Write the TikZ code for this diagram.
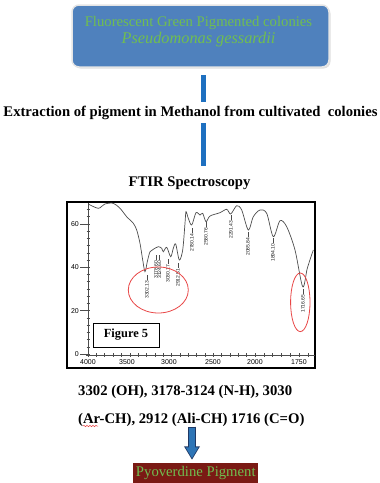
\documentclass[tikz,border=0pt]{standalone}
\usepackage{fontspec}
\setmainfont{Liberation Serif}
\setsansfont{Liberation Sans}
\usepackage{xcolor}
\usepackage{graphicx}
\usepackage{tikz}
\usetikzlibrary{arrows.meta, positioning, shadows, decorations.pathmorphing}
\definecolor{boxblue}{RGB}{79,129,189}
\definecolor{txtgreen}{RGB}{112,190,80}
\definecolor{linkblue}{RGB}{30,112,192}
\definecolor{arrowblue}{RGB}{46,117,182}
\definecolor{arrowedge}{RGB}{31,56,100}
\definecolor{pigred}{RGB}{122,26,20}
\definecolor{ringred}{RGB}{232,70,70}
\tikzstyle{startbox} = [rectangle, rounded corners=7pt, minimum width=257pt, minimum height=62pt, fill=boxblue, draw=gray!20, line width=1.5pt, drop shadow={opacity=0.25, shadow xshift=1.5pt, shadow yshift=-1.5pt}]
\tikzstyle{starttext} = [inner sep=0pt, align=center, text=txtgreen, font=\fontsize{14.7}{16.7}\selectfont]
\tikzstyle{steptext} = [inner sep=0pt, text height=10pt, text depth=3pt, font=\fontsize{14.7}{17}\selectfont\bfseries]
\tikzstyle{link} = [line width=5pt, draw=linkblue]
\tikzstyle{axis} = [line width=0.5pt, draw=gray!60!black]
\tikzstyle{ticklabel} = [inner sep=0.5pt, font=\sffamily\fontsize{7}{8}\selectfont]
\tikzstyle{peaklabel} = [rotate=90, anchor=east, inner sep=0pt, text=gray!20!black, font=\sffamily\fontsize{5}{6}\selectfont]
\tikzstyle{ring} = [line width=0.8pt, draw=ringred]
\tikzstyle{figlabel} = [rectangle, draw=black, line width=0.8pt, minimum width=66pt, minimum height=24pt, inner sep=0pt, font=\fontsize{12.4}{14}\selectfont\bfseries]
\tikzstyle{bandtext} = [inner sep=0pt, align=left, font=\fontsize{14.7}{28}\selectfont\bfseries]
\tikzstyle{bigarrow} = [line width=8pt, draw=arrowedge, -{Triangle[width=15pt, length=13.5pt]}]
\tikzstyle{bigarrowfill} = [line width=6pt, draw=arrowblue, -{Triangle[width=12pt, length=11pt]}]
\tikzstyle{resultbox} = [rectangle, fill=pigred, minimum width=125pt, minimum height=20pt, inner sep=0pt, text height=9pt, text depth=3pt, text=txtgreen, font=\fontsize{14.7}{17}\selectfont]

\begin{document}
\begin{tikzpicture}[x=1pt, y=-1pt]
    \useasboundingbox (0,0) rectangle (380,483);

    \node (src) [startbox] at (200.5,36) {};
    \node (srctxt) [starttext, anchor=north] at (198.5,16) {Fluorescent Green Pigmented colonies\\ {\fontsize{16.3}{16.7}\selectfont\itshape Pseudomonas gessardii}};
    \node (extr) [steptext, anchor=base] at (190.5,116) {\resizebox{374pt}{\height}{Extraction of pigment in Methanol from cultivated\ \ colonies}};
    \node (ftir) [steptext, anchor=base] at (189.5,186) {FTIR Spectroscopy};

    \draw [link, shorten <=7.25pt, shorten >=4pt] ([xshift=2.5pt]src.south) -- ([xshift=2.5pt]src.south |- extr.north);
    \draw [link, shorten <=4pt, shorten >=10pt] ([xshift=2.5pt]src.south |- extr.south) -- ([xshift=2.5pt]src.south |- ftir.north);

    \draw [line width=1.4pt] (67,202) rectangle (315,368);
    \draw [axis] (88,203) -- (88,356) (86,355) -- (315,355);
    \foreach \k in {0,...,20}
        \draw [axis] (86.5,354-7.23*\k) -- (90,354-7.23*\k);
    \foreach \v/\k in {0/0, 20/6, 40/12, 60/18} {
        \draw [axis] (80,354-7.23*\k) -- (88,354-7.23*\k);
        \node [ticklabel, anchor=east] at (79.5,354-7.23*\k) {\v};
    }
    \foreach \k in {0,...,20}
        \draw [axis] (88+8.35*\k,353) -- (88+8.35*\k,357);
    \foreach \k in {1,...,6}
        \draw [axis] (255+8.8*\k,353) -- (255+8.8*\k,357);
    \foreach \x/\v in {88/4000, 127/3500, 169/3000, 213/2500, 255/2000, 299/1750}
        \node [ticklabel, anchor=north] at (\x,359) {\v};

    \draw [line width=0.7pt, draw=gray!60!black] plot [smooth, tension=0.5] coordinates {
        (88.3,204) (98.3,208.3) (105,204) (113.3,203.3) (120,208.3) (126.7,216.7)
        (133.3,223.3) (136.7,230) (140,243.3) (142.7,260) (145,271.7) (147.3,261.7)
        (150,251.7) (153.3,249.3) (158.3,246.7) (161.7,248.3) (163.3,251.7) (166.7,247.3)
        (170.7,256.7) (173.3,248.3) (175.7,244) (179.3,260) (182.7,250) (185,223.3)
        (186,211.7) (188.3,218.3) (191.7,225) (196,212.7) (200,215) (202.7,213.3)
        (206,221.7) (210,216) (220,212.7) (226.7,209.3) (230.7,214) (236.7,205.7)
        (241.7,210) (248.3,230) (253.3,216.7) (260,210) (266.7,213.3) (273.3,236.7)
        (280,220.7) (286.7,226.7) (295,250) (302.7,286.7) (307.3,268.3) (313.3,250)};

    \foreach \x/\y/\t in {147/275/3302.13, 156/255/3178.60, 159.5/255/3124.60, 168/259/3030.17,
                          178/263/2912.51, 192/228/2780.14, 206/222/2580.76, 231/215/2291.43,
                          248/232/2085.84, 273/238/1894.10, 303/289/1716.65} {
        \draw [axis, line width=0.3pt] (\x,\y) -- (\x,\y+5);
        \node [peaklabel] at (\x,\y+5.5) {\t};
    }

    \draw [ring] (158.3,290) ellipse [x radius=30, y radius=23];
    \draw [ring] (300.3,302.3) ellipse [x radius=9.7, y radius=29.3];

    \node (fig) [figlabel] at (126,335) {Figure 5};

    \node (bands) [bandtext, anchor=north west] at (78,385) {3302 (OH), 3178-3124 (N-H), 3030\\(Ar-CH), 2912 (Ali-CH) 1716 (C=O)};
    \draw [ringred, line width=0.5pt, decorate, decoration={snake, amplitude=0.7pt, segment length=3pt}] (83,426) -- (98,426);

    \node (pig) [resultbox] at (195.8,473.3) {Pyoverdine Pigment};

    \draw [bigarrow, shorten >=3.3pt] ([xshift=-3.8pt]pig.north |- bands.south) -- ([xshift=-3.8pt]pig.north);
    \draw [bigarrowfill, shorten <=1pt, shorten >=4.8pt] ([xshift=-3.8pt]pig.north |- bands.south) -- ([xshift=-3.8pt]pig.north);
\end{tikzpicture}
\end{document}
